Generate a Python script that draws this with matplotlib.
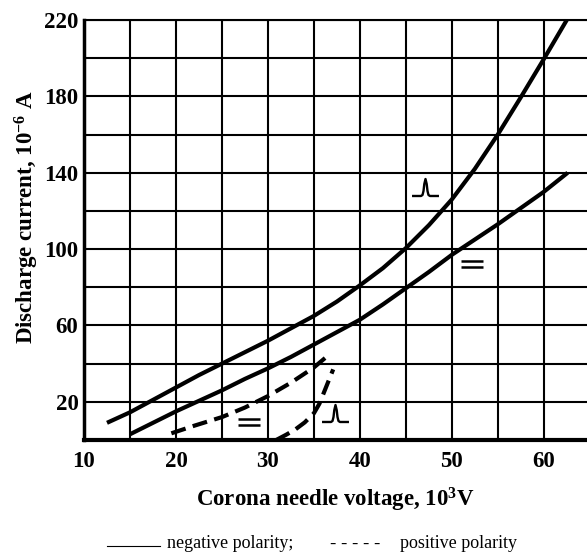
import matplotlib
matplotlib.use("Agg")
import matplotlib.pyplot as plt
import numpy as np
from matplotlib.path import Path
from matplotlib.lines import Line2D

# datos (tension en kV, corriente en uA)
neg_pulso_v = [12.5, 15, 17.5, 20, 22.5, 25, 27.5, 30, 32.5, 35, 37.5, 40,
               42.5, 45, 47.5, 50, 52.5, 55, 57.5, 60, 62.5]
neg_pulso_i = [9, 14.5, 21, 27.5, 34, 40, 46, 52, 58.5, 65, 72.5, 81,
               90, 100.5, 112.5, 126, 142, 160, 179.5, 199.5, 220]

neg_cont_v = [15, 17.5, 20, 22.5, 25, 27.5, 30, 32.5, 35, 37.5, 40, 42.5,
              45, 47.5, 50, 52.5, 55, 57.5, 60, 62.6]
neg_cont_i = [3, 9, 15, 20.5, 26, 32, 37.5, 43.5, 50, 56.5, 63, 71,
              79.5, 88, 97, 105, 113, 121.5, 130, 140]

pos_cont_v = [19.5, 22, 25, 27.5, 30, 32.5, 35, 36.6]
pos_cont_i = [3.5, 7.5, 12, 17, 23, 30, 38, 44.5]

pos_pulso_v = [30.9, 32, 33, 34, 35, 35.6, 36.1, 36.6, 37.1]
pos_pulso_i = [0, 2.8, 5.6, 9.2, 14, 19, 25, 31, 37]

xticks = [10, 20, 30, 40, 50, 60]
yticks = [20, 60, 100, 140, 180, 220]

plt.rcParams['font.family'] = 'Liberation Serif'
plt.rcParams['mathtext.fontset'] = 'custom'
plt.rcParams['mathtext.rm'] = 'Liberation Serif:bold'
plt.rcParams['mathtext.bf'] = 'Liberation Serif:bold'
plt.rcParams['mathtext.default'] = 'bf'

fig = plt.figure(figsize=(5.87, 5.52), dpi=100)
ax = fig.add_axes([84/587, 112/552, 503/587, 420/552])

ax.set_xlim(10, 64.7)
ax.set_ylim(0, 220)
ax.set_xticks(xticks)
ax.set_xticks(np.arange(15, 65, 10), minor=True)
ax.set_yticks(yticks)
ax.set_yticks(np.arange(0, 220, 40), minor=True)
ax.grid(True, which='both', color='black', linewidth=1.5)
ax.set_axisbelow(True)
ax.tick_params(which='both', length=0)
ax.tick_params(axis='x', pad=8, labelsize=16.5)
ax.tick_params(axis='y', pad=4, labelsize=16.5)
for lab in ax.get_xticklabels() + ax.get_yticklabels():
    lab.set_fontweight('bold')

ax.spines['right'].set_visible(False)
ax.spines['top'].set_linewidth(1.5)
ax.spines['left'].set_linewidth(2.5)
ax.spines['bottom'].set_linewidth(3)

lw = 3
estilo = dict(color='black', lw=lw, solid_joinstyle='round', solid_capstyle='butt')
ax.plot(neg_pulso_v, neg_pulso_i, clip_on=False, **estilo)
ax.plot(neg_cont_v, neg_cont_i, **estilo)
ax.plot(pos_cont_v, pos_cont_i, color='black', lw=lw, linestyle=(0, (3.6, 1.8)))
ax.plot(pos_pulso_v, pos_pulso_i, color='black', lw=lw, linestyle=(0, (3.6, 1.8)))

# simbolos: pulso e igual
pulso = Path([(-13.5, -8.5), (-4.5, -8.5), (-3, -7.5), (-2, -3.5), (-1.2, 3.5),
              (0, 8.5), (1.2, 3.5), (2, -3.5), (3, -7.5), (4.5, -8.5), (13.5, -8.5)])
igual = Path([(-11, 3.5), (11, 3.5), (-11, -3.5), (11, -3.5)],
             [Path.MOVETO, Path.LINETO, Path.MOVETO, Path.LINETO])
for (x, y) in [(47.1, 132.7), (37.3, 14)]:
    ax.plot(x, y, marker=pulso, markersize=19.4, markerfacecolor='none',
            markeredgecolor='black', markeredgewidth=1.7)
for (x, y) in [(52.2, 92.4), (27.9, 9.6)]:
    ax.plot(x, y, marker=igual, markersize=15.8, markerfacecolor='none',
            markeredgecolor='black', markeredgewidth=1.8)

fig.text(335.5/587, 1 - 507/552, r"Corona needle voltage, $10^{3}$V",
         ha='center', va='baseline', fontsize=16.5, fontweight='bold')
fig.text(27/587, 1 - 217/552, r"Discharge current, $10^{-6}$ A",
         ha='center', va='center', rotation=90, fontsize=16.5, fontweight='bold')

# leyenda inferior
fig.add_artist(Line2D([107/587, 160/587], [1 - 545.5/552] * 2, color='black', lw=0.8))
fig.text(167/587, 1 - 548/552, "negative polarity;", ha='left', va='baseline', fontsize=13)
fig.text(330/587, 1 - 548/552, "- - - - -", ha='left', va='baseline', fontsize=13.5)
fig.text(400/587, 1 - 548/552, "positive polarity", ha='left', va='baseline', fontsize=13)

fig.savefig("out.png", dpi=100)
